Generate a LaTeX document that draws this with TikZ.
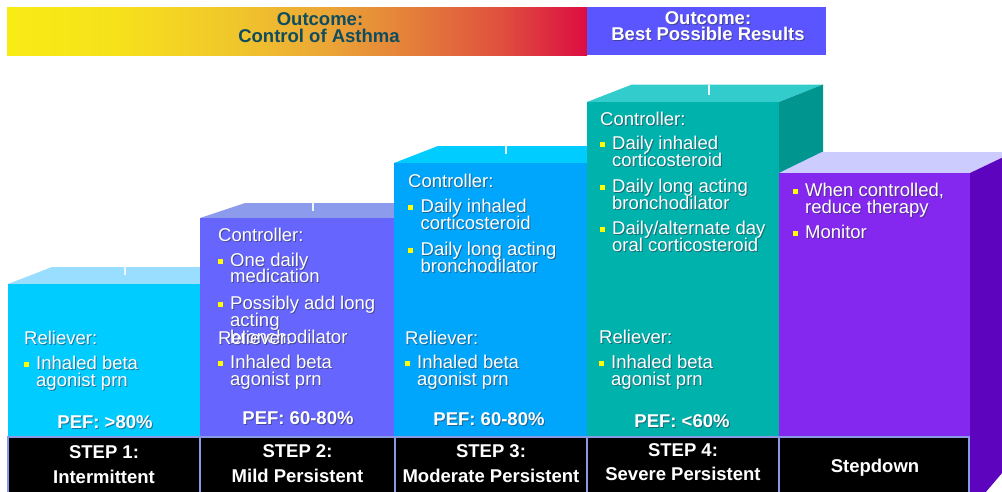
\documentclass[tikz,border=0pt]{standalone}
\usepackage{fontspec}
\setmainfont{Liberation Sans}

% face colours of the five steps
\definecolor{sOneFront}{HTML}{00CCFF}
\definecolor{sOneTop}{HTML}{99DDFF}
\definecolor{sTwoFront}{HTML}{6666FF}
\definecolor{sTwoTop}{HTML}{8C9BEB}
\definecolor{sThreeFront}{HTML}{00A6FB}
\definecolor{sThreeTop}{HTML}{00CCFF}
\definecolor{sFourFront}{HTML}{00B2AC}
\definecolor{sFourTop}{HTML}{33CCCC}
\definecolor{sFourSide}{HTML}{00958F}
\definecolor{sFiveFront}{HTML}{8428F0}
\definecolor{sFiveTop}{HTML}{CCCCFF}
\definecolor{sFiveSide}{HTML}{5D04BF}
\definecolor{labBorder}{HTML}{8A99E3}
\definecolor{bannerBlue}{HTML}{5B55FF}
\definecolor{bannerText}{HTML}{0F4D5E}
\definecolor{bulletYellow}{HTML}{FFFF00}
\definecolor{shadowGray}{HTML}{303048}

% stops of the yellow-to-red band
\definecolor{gradA}{HTML}{F9EC14}
\definecolor{gradB}{HTML}{F6E01C}
\definecolor{gradC}{HTML}{F0C52C}
\definecolor{gradD}{HTML}{EBA636}
\definecolor{gradE}{HTML}{E47E3A}
\definecolor{gradF}{HTML}{DF503E}
\definecolor{gradG}{HTML}{DC0C42}

% the filled path maps onto 25bp..75bp
\pgfdeclarehorizontalshading{outcomegrad}{100bp}{%
  color(0bp)=(gradA);
  color(25bp)=(gradA);
  color(35bp)=(gradB);
  color(45bp)=(gradC);
  color(52.5bp)=(gradD);
  color(60bp)=(gradE);
  color(67.5bp)=(gradF);
  color(75bp)=(gradG);
  color(100bp)=(gradG)}

\newcommand\wtext[4]{%
  \node[txt,shtxt] (#1-sh) at (#2+1,#3+1) {#4};
  \node[txt] (#1) at (#2,#3) {#4};}
\newcommand\pefline[4]{%
  \node[peftxt,shtxt] (#1-sh) at (#2+1,#3+1) {#4};
  \node[peftxt] (#1) at (#2,#3) {#4};}
\newcommand\sqbullet[2]{\fill[bulletYellow] (#1,#2-7) rectangle (#1+5,#2-2);}

\begin{document}
\begin{tikzpicture}[x=1pt,y=-1pt,
  txt/.style={anchor=base west,inner sep=0pt,text=white,
    font=\fontsize{18.5}{18}\selectfont},
  peftxt/.style={anchor=base,inner sep=0pt,text=white,
    font=\fontsize{18.5}{18}\selectfont\bfseries},
  shtxt/.style={text=shadowGray,text opacity=0.55},
  labtxt/.style={anchor=base,inner sep=0pt,text=white,
    font=\fontsize{18.5}{18}\selectfont\bfseries},
  hdrtxt/.style={anchor=base,inner sep=0pt,
    font=\fontsize{18.5}{18}\selectfont\bfseries},
  tickline/.style={draw=white!92!cyan,line width=1.8pt},
  labbox/.style={fill=black,draw=labBorder,line width=1.6pt}]
\useasboundingbox (0,0) rectangle (1002,491);
\clip (0,0) rectangle (1002,491);

% outcome banners
\shade[shading=outcomegrad] (7,7) rectangle (587,55);
\fill[bannerBlue] (587,7) rectangle (826,55);
\node[hdrtxt,text=bannerText] (outA1) at (320,25) {Outcome:};
\node[hdrtxt,text=bannerText] (outA2) at (319,42.5) {Control of Asthma};
\node[hdrtxt,shtxt] (outB1-sh) at (709,25) {Outcome:};
\node[hdrtxt,text=white] (outB1) at (708,24) {Outcome:};
\node[hdrtxt,shtxt] (outB2-sh) at (709,41.7) {Best Possible Results};
\node[hdrtxt,text=white] (outB2) at (708,40.7) {Best Possible Results};

% step 1
\fill[sOneTop] (8,284) -- (52,267) -- (244,267) -- (200,284) -- cycle;
\fill[sOneFront] (8,284) rectangle (200,437);
% step 2
\fill[sTwoTop] (200,218) -- (245,203) -- (439,203) -- (395,218) -- cycle;
\fill[sTwoFront] (200,218) rectangle (395,437);
% step 3
\fill[sThreeTop] (394,163) -- (438,146) -- (631,146) -- (587,163) -- cycle;
\fill[sThreeFront] (394,163) rectangle (587,437);
% step 4
\fill[sFourTop] (587,102) -- (632,84.5) -- (823,84.5) -- (779,102) -- cycle;
\fill[sFourSide] (779,102) -- (823,84.5) -- (823,420) -- (779,437) -- cycle;
\fill[sFourFront] (587,102) rectangle (779,437);
% stepdown
\fill[sFiveTop] (779,173) -- (822,152) -- (1014,152) -- (970,173) -- cycle;
\fill[sFiveSide] (970,173) -- (1014,152) -- (1014,459) -- (985,493) -- (970,493) -- cycle;
\fill[sFiveFront] (779,173) rectangle (970,437);

% marks on the top faces
\draw[tickline] (125,267) -- (125,275);
\draw[tickline] (313,203) -- (313,211);
\draw[tickline] (506,146) -- (506,154);
\draw[tickline] (709,84.5) -- (709,95);

% step labels
\draw[labbox] (8,437) rectangle (200,496);
\draw[labbox] (200,437) rectangle (395,496);
\draw[labbox] (395,437) rectangle (587,496);
\draw[labbox] (587,437) rectangle (779,496);
\draw[labbox] (779,437) rectangle (969,496);
\node[labtxt] (lab1a) at (104,458) {STEP 1:};
\node[labtxt] (lab1b) at (104,483) {Intermittent};
\node[labtxt] (lab2a) at (297.5,457) {STEP 2:};
\node[labtxt] (lab2b) at (297.5,482) {Mild Persistent};
\node[labtxt] (lab3a) at (491,457) {STEP 3:};
\node[labtxt] (lab3b) at (491,482) {Moderate Persistent};
\node[labtxt] (lab4a) at (683,456) {STEP 4:};
\node[labtxt] (lab4b) at (683,480.5) {Severe Persistent};
\node[labtxt] (lab5) at (875,472) {Stepdown};

% step 1 text
\wtext{s1r}{24}{344}{Reliever:}
\sqbullet{24}{369}
\wtext{s1i}{36}{369}{Inhaled beta}
\wtext{s1j}{36}{386}{agonist prn}
\pefline{s1p}{105}{428}{PEF: >80\%}

% step 2 text
\wtext{s2c}{218}{241}{Controller:}
\sqbullet{218}{266}
\wtext{s2a}{230}{266}{One daily}
\wtext{s2b}{230}{282.5}{medication}
\sqbullet{218}{309}
\wtext{s2d}{230}{309}{Possibly add long}
\wtext{s2e}{230}{326}{acting}
\wtext{s2f}{230}{343.5}{bronchodilator}
\wtext{s2r}{218}{344}{Reliever:}
\sqbullet{218}{368}
\wtext{s2i}{230}{368}{Inhaled beta}
\wtext{s2j}{230}{385}{agonist prn}
\pefline{s2p}{298}{424}{PEF: 60-80\%}

% step 3 text
\wtext{s3c}{408}{187}{Controller:}
\sqbullet{408}{212}
\wtext{s3a}{420.5}{212}{Daily inhaled}
\wtext{s3b}{420.5}{229}{corticosteroid}
\sqbullet{408}{255}
\wtext{s3d}{420.5}{255}{Daily long acting}
\wtext{s3e}{420.5}{272}{bronchodilator}
\wtext{s3r}{405}{344}{Reliever:}
\sqbullet{405}{368}
\wtext{s3i}{417}{368}{Inhaled beta}
\wtext{s3j}{417}{385}{agonist prn}
\pefline{s3p}{489}{425}{PEF: 60-80\%}

% step 4 text
\wtext{s4c}{600}{125.5}{Controller:}
\sqbullet{600}{149}
\wtext{s4a}{612}{149}{Daily inhaled}
\wtext{s4b}{612}{166}{corticosteroid}
\sqbullet{600}{192}
\wtext{s4d}{612}{192}{Daily long acting}
\wtext{s4e}{612}{209}{bronchodilator}
\sqbullet{600}{234}
\wtext{s4f}{612}{234}{Daily/alternate day}
\wtext{s4g}{612}{251}{oral corticosteroid}
\wtext{s4r}{599}{343}{Reliever:}
\sqbullet{599}{368}
\wtext{s4i}{611}{368}{Inhaled beta}
\wtext{s4j}{611}{385}{agonist prn}
\pefline{s4p}{682}{427}{PEF: <60\%}

% stepdown text
\sqbullet{793}{196}
\wtext{s5a}{805}{196}{When controlled,}
\wtext{s5b}{805}{213}{reduce therapy}
\sqbullet{793}{238}
\wtext{s5c}{805}{238}{Monitor}
\end{tikzpicture}
\end{document}
